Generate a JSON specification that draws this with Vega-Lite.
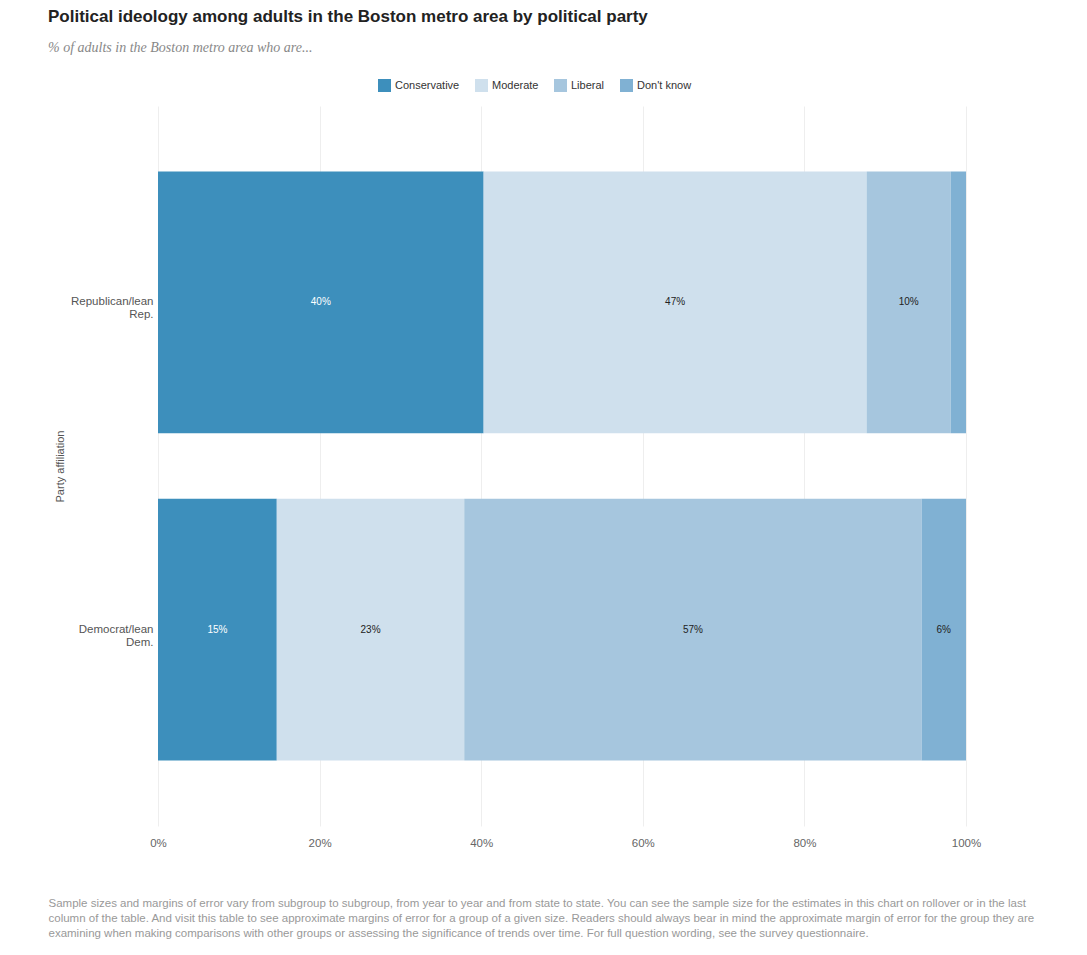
{
  "$schema": "https://vega.github.io/schema/vega-lite/v6.json",
  "width": 808,
  "height": 720,
  "padding": {"left": 48, "top": 8, "right": 10, "bottom": 10},
  "background": "white",
  "config": {"view": {"stroke": null}},
  "title": {
    "text": "Political ideology among adults in the Boston metro area by political party",
    "subtitle": "% of adults in the Boston metro area who are...",
    "anchor": "start",
    "frame": "bounds",
    "font": "'Liberation Sans Narrow', 'Liberation Sans'",
    "fontSize": 17,
    "fontWeight": "bold",
    "color": "#222222",
    "subtitleFont": "'Liberation Serif'",
    "subtitleFontStyle": "italic",
    "subtitleFontSize": 14,
    "subtitleColor": "#888888",
    "subtitlePadding": 15,
    "offset": 23
  },
  "data": {
    "values": [
      {"party": "Republican/lean Rep.", "ideology": "Conservative", "rank": 1, "value": 0.403},
      {"party": "Republican/lean Rep.", "ideology": "Moderate", "rank": 2, "value": 0.474},
      {"party": "Republican/lean Rep.", "ideology": "Liberal", "rank": 3, "value": 0.104},
      {"party": "Republican/lean Rep.", "ideology": "Don't know", "rank": 4, "value": 0.019},
      {"party": "Democrat/lean Dem.", "ideology": "Conservative", "rank": 1, "value": 0.147},
      {"party": "Democrat/lean Dem.", "ideology": "Moderate", "rank": 2, "value": 0.232},
      {"party": "Democrat/lean Dem.", "ideology": "Liberal", "rank": 3, "value": 0.566},
      {"party": "Democrat/lean Dem.", "ideology": "Don't know", "rank": 4, "value": 0.055}
    ]
  },
  "transform": [
    {"stack": "value", "groupby": ["party"], "sort": [{"field": "rank", "order": "ascending"}], "as": ["v0", "v1"]}
  ],
  "encoding": {
    "y": {
      "field": "party",
      "type": "nominal",
      "sort": ["Republican/lean Rep.", "Democrat/lean Dem."],
      "scale": {"paddingInner": 0.2, "paddingOuter": 0.2},
      "axis": {
        "title": "Party affiliation",
        "labelExpr": "split(datum.label, ' ')",
        "labelAlign": "right",
        "labelBaseline": "middle",
        "labelFont": "'Liberation Sans'",
        "labelFontSize": 11.5,
        "labelColor": "#555555",
        "labelPadding": 5,
        "labelLineHeight": 13,
        "ticks": false,
        "domain": false,
        "grid": false,
        "titleFont": "'Liberation Sans'",
        "titleFontSize": 11,
        "titleFontWeight": "normal",
        "titleColor": "#555555",
        "titlePadding": 5
      }
    }
  },
  "layer": [
    {
      "mark": {"type": "bar"},
      "encoding": {
        "x": {
          "field": "v0",
          "type": "quantitative",
          "scale": {"domain": [0, 1]},
          "axis": {
            "values": [0, 0.2, 0.4, 0.6, 0.8, 1],
            "format": ".0%",
            "labelFont": "'Liberation Sans'",
            "labelFontSize": 11.5,
            "labelColor": "#666666",
            "labelPadding": 11,
            "labelFlush": false,
            "ticks": false,
            "domain": false,
            "grid": true,
            "gridColor": "#eeeeee",
            "title": [
              "Sample sizes and margins of error vary from subgroup to subgroup, from year to year and from state to state. You can see the sample size for the estimates in this chart on rollover or in the last",
              "column of the table. And visit this table to see approximate margins of error for a group of a given size. Readers should always bear in mind the approximate margin of error for the group they are",
              "examining when making comparisons with other groups or assessing the significance of trends over time. For full question wording, see the survey questionnaire."
            ],
            "titleFont": "'Liberation Sans'",
            "titleFontSize": 11.5,
            "titleFontWeight": "normal",
            "titleColor": "#999999",
            "titleX": -110,
            "titleY": 71,
            "titleAlign": "left",
            "titleBaseline": "top",
            "titleLineHeight": 15
          }
        },
        "x2": {"field": "v1"},
        "color": {
          "field": "ideology",
          "type": "nominal",
          "scale": {
            "domain": ["Conservative", "Moderate", "Liberal", "Don't know"],
            "range": ["#3d8fbc", "#cfe0ed", "#a6c6de", "#80b1d3"]
          },
          "legend": {
            "title": null,
            "orient": "none",
            "legendX": 220,
            "legendY": -27,
            "direction": "horizontal",
            "symbolType": "square",
            "symbolSize": 169,
            "symbolStrokeWidth": 0,
            "symbolOpacity": 1,
            "labelFont": "'Liberation Sans'",
            "labelFontSize": 11,
            "labelColor": "#333333",
            "labelOffset": 4,
            "columnPadding": 15
          }
        }
      }
    },
    {
      "transform": [
        {"fold": ["v0", "v1"], "as": ["edge", "pos"]},
        {"aggregate": [{"op": "mean", "field": "pos", "as": "mid"}, {"op": "max", "field": "value", "as": "pct"}], "groupby": ["party", "ideology"]},
        {"filter": "datum.pct >= 0.03"}
      ],
      "mark": {"type": "text", "font": "'Liberation Sans'", "fontSize": 10, "align": "center", "baseline": "middle"},
      "encoding": {
        "x": {"field": "mid", "type": "quantitative"},
        "text": {"field": "pct", "type": "quantitative", "format": ".0%"},
        "color": {
          "condition": {"test": "datum.ideology === 'Conservative'", "value": "white"},
          "value": "#222222"
        }
      }
    }
  ]
}
